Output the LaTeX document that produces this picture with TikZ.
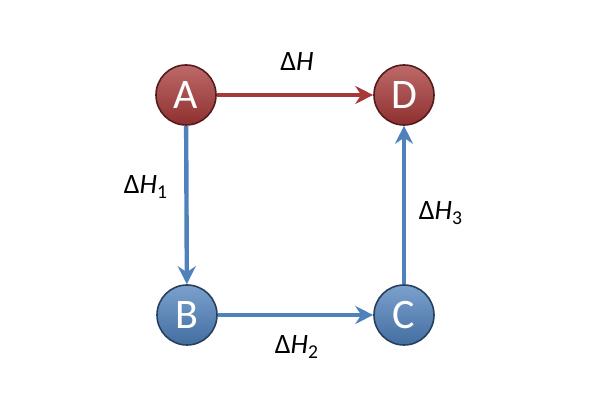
\documentclass[tikz,border=0pt]{standalone}
\usepackage{fontspec}
\setmainfont{Carlito}
\usetikzlibrary{arrows.meta}
\definecolor{rd}{HTML}{A83838}
\definecolor{bl}{HTML}{4F81BD}
\begin{document}
\begin{tikzpicture}[x=0.5pt,y=-0.5pt,
  ball/.style={circle,minimum size=30pt,inner sep=0pt,draw=#1!50!black,line width=0.8pt,
    top color=#1!75!white,bottom color=#1!85!black,text=white,font=\fontsize{21}{21}\selectfont},
  arr/.style={draw=#1,line width=2.2pt,-{Stealth[length=9pt,width=9pt,inset=3pt]}},
  lab/.style={font=\fontsize{14}{14}\selectfont}]
\useasboundingbox (0,0) rectangle (600,400);
\node[ball=rd] (A) at (186,95) {A};
\node[ball=rd] (D) at (404,95) {D};
\node[ball=bl] (B) at (187,315) {B};
\node[ball=bl] (C) at (404,315) {C};
\draw[arr=rd] (A) -- (D);
\draw[arr=bl] (A) -- (B);
\draw[arr=bl] (B) -- (C);
\draw[arr=bl] (C) -- (D);
\node[lab] (l0) at (297,62) {Δ\textit{H}};
\node[lab] (l1) at (146,187) {Δ\textit{H}\textsubscript{1}};
\node[lab] (l2) at (297,347) {Δ\textit{H}\textsubscript{2}};
\node[lab] (l3) at (441,213) {Δ\textit{H}\textsubscript{3}};
\end{tikzpicture}
\end{document}
